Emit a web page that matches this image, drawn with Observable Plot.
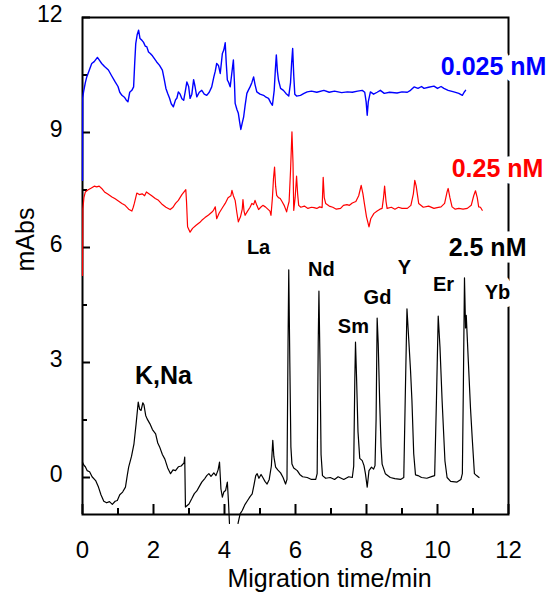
<!DOCTYPE html>
<html><head><meta charset="utf-8">
<script src="https://cdn.jsdelivr.net/npm/d3@7"></script>
<script src="https://cdn.jsdelivr.net/npm/@observablehq/plot@0.6"></script>
<style>html,body{margin:0;padding:0;background:#fff;}</style>
</head><body><div id="chart"></div>
<script>
// ---- data ----
const xTicks = [0, 2, 4, 6, 8, 10, 12];
const xMinorTicks = [1, 3, 5, 7, 9, 11];
const yTicks = [0, 3, 6, 9, 12];
const yMinorTicks = [1.5, 4.5, 7.5, 10.5];
const xTitle = "Migration time/min";
const yTitle = "mAbs";

// 2.5 nM trace (black) [time (min), mAbs]
const trace2_5 = [[0,0.40],[0.04,0.32],[0.08,0.28],[0.13,0.18],[0.2,0.15],[0.27,0.02],[0.37,-0.08],[0.45,-0.25],[0.52,-0.45],[0.6,-0.62],[0.68,-0.66],[0.76,-0.63],[0.84,-0.70],[0.92,-0.62],[0.98,-0.6],[1.05,-0.45],[1.13,-0.38],[1.21,-0.25],[1.26,0.05],[1.30,0.27],[1.38,0.55],[1.45,0.88],[1.51,1.4],[1.57,1.97],[1.61,1.78],[1.65,1.75],[1.70,1.95],[1.73,1.90],[1.78,1.62],[1.82,1.53],[1.9,1.4],[1.97,1.25],[2.06,1.14],[2.12,0.9],[2.18,0.78],[2.25,0.6],[2.32,0.48],[2.40,0.25],[2.48,0.10],[2.55,0.2],[2.62,0.18],[2.70,0.28],[2.78,0.30],[2.86,0.38],[2.88,0.53],[2.90,-0.77],[3.0,-0.69],[3.08,-0.55],[3.15,-0.42],[3.22,-0.35],[3.28,-0.25],[3.36,-0.12],[3.45,-0.02],[3.50,0.05],[3.56,0.10],[3.62,0.03],[3.70,0.12],[3.76,0.05],[3.82,0.2],[3.86,0.40],[3.90,-0.3],[3.94,-0.51],[3.98,-0.38],[4.03,-0.34],[4.08,-0.12],[4.11,-0.6],[4.14,-1.2],[4.26,NaN],[4.38,-1.2],[4.44,-0.95],[4.50,-0.86],[4.58,-0.7],[4.65,-0.6],[4.72,-0.5],[4.78,-0.43],[4.83,-0.2],[4.88,0.05],[4.92,0.10],[4.97,-0.02],[5.03,0.08],[5.08,0.0],[5.14,-0.1],[5.2,-0.17],[5.26,-0.05],[5.32,0.3],[5.36,0.97],[5.39,0.55],[5.44,0.27],[5.5,0.2],[5.58,0.12],[5.65,0.0],[5.72,-0.17],[5.76,-0.05],[5.79,3.5],[5.81,5.42],[5.84,3.0],[5.87,0.8],[5.90,0.35],[5.95,0.25],[6.05,0.18],[6.12,0.08],[6.2,0.02],[6.33,0.0],[6.45,-0.05],[6.57,-0.05],[6.61,0.1],[6.64,3.5],[6.66,4.86],[6.69,3.0],[6.72,0.6],[6.76,0.05],[6.85,-0.02],[6.98,0.0],[7.1,-0.05],[7.2,0.02],[7.36,-0.05],[7.5,0.02],[7.6,0.0],[7.64,0.3],[7.67,2.5],[7.69,3.53],[7.72,2.6],[7.76,1.2],[7.81,0.5],[7.88,0.44],[7.93,0.31],[7.97,0.1],[8.02,-0.25],[8.07,0.18],[8.14,0.27],[8.20,0.22],[8.24,0.31],[8.27,1.5],[8.30,4.16],[8.33,3.5],[8.37,2.0],[8.41,0.8],[8.44,0.35],[8.53,0.1],[8.67,0.0],[8.8,-0.03],[8.96,-0.05],[9.05,0.0],[9.09,2.0],[9.14,4.40],[9.19,3.6],[9.24,2.8],[9.28,2.0],[9.33,0.62],[9.38,0.07],[9.45,0.05],[9.55,0.0],[9.7,-0.02],[9.85,0.03],[9.92,0.05],[9.97,2.0],[10.02,4.21],[10.07,3.4],[10.13,2.0],[10.21,0.43],[10.27,0.0],[10.37,-0.1],[10.55,-0.12],[10.66,-0.05],[10.70,0.1],[10.73,2.5],[10.76,5.21],[10.79,3.9],[10.81,4.23],[10.87,3.0],[10.93,1.8],[10.98,1.0],[11.04,0.1],[11.1,0.05],[11.17,0.0]];

// 0.25 nM trace (red)
const trace0_25 = [[0,5.27],[0.01,7.0],[0.04,7.3],[0.08,7.45],[0.15,7.5],[0.25,7.55],[0.33,7.6],[0.40,7.58],[0.47,7.6],[0.54,7.54],[0.62,7.45],[0.7,7.4],[0.83,7.32],[0.92,7.27],[1.0,7.22],[1.11,7.15],[1.2,7.1],[1.3,7.0],[1.39,6.95],[1.43,7.05],[1.46,7.15],[1.53,7.42],[1.6,7.38],[1.68,7.4],[1.75,7.35],[1.8,7.45],[1.86,7.41],[1.95,7.35],[2.05,7.28],[2.14,7.23],[2.25,7.12],[2.35,7.05],[2.47,6.99],[2.55,7.05],[2.62,7.15],[2.70,7.23],[2.8,7.38],[2.91,7.51],[2.93,7.2],[2.96,6.54],[3.03,6.40],[3.1,6.5],[3.2,6.58],[3.3,6.65],[3.36,6.71],[3.45,6.78],[3.55,6.85],[3.64,6.92],[3.69,6.97],[3.74,7.06],[3.78,6.75],[3.85,6.9],[3.95,7.05],[4.02,7.15],[4.1,7.3],[4.18,7.35],[4.21,7.49],[4.25,7.35],[4.30,7.23],[4.35,6.9],[4.39,6.67],[4.45,6.8],[4.50,7.0],[4.52,7.25],[4.55,6.95],[4.58,6.84],[4.65,6.95],[4.72,7.05],[4.77,7.15],[4.82,7.12],[4.86,7.23],[4.91,7.1],[4.96,6.99],[5.02,7.05],[5.08,7.1],[5.15,7.06],[5.22,7.0],[5.28,6.95],[5.31,6.84],[5.35,7.3],[5.38,7.8],[5.41,8.10],[5.44,7.6],[5.47,7.36],[5.52,7.3],[5.57,7.28],[5.62,7.2],[5.68,7.1],[5.75,6.93],[5.77,7.02],[5.82,7.2],[5.86,8.0],[5.90,9.02],[5.93,8.2],[5.95,6.97],[5.99,7.3],[6.03,7.86],[6.06,7.4],[6.09,7.10],[6.15,7.05],[6.25,7.08],[6.35,7.02],[6.45,7.05],[6.52,7.04],[6.6,7.02],[6.68,7.06],[6.75,7.04],[6.78,7.83],[6.81,7.3],[6.85,7.15],[6.95,7.08],[7.05,7.05],[7.15,7.0],[7.27,7.02],[7.35,7.1],[7.45,7.12],[7.52,7.1],[7.60,7.16],[7.7,7.2],[7.78,7.35],[7.85,7.62],[7.9,7.4],[7.94,7.15],[8.0,6.8],[8.07,6.54],[8.12,6.75],[8.21,6.89],[8.3,6.95],[8.38,7.0],[8.44,7.02],[8.48,7.3],[8.51,7.60],[8.55,7.2],[8.58,7.02],[8.7,7.05],[8.8,7.0],[8.9,7.05],[9.0,7.02],[9.15,7.02],[9.25,7.1],[9.32,7.4],[9.36,7.75],[9.40,7.6],[9.47,7.15],[9.6,7.05],[9.75,7.08],[9.9,7.02],[9.99,7.04],[10.1,7.06],[10.2,7.15],[10.27,7.45],[10.30,7.54],[10.35,7.3],[10.41,7.06],[10.5,7.0],[10.6,7.02],[10.72,7.0],[10.84,7.02],[10.95,7.1],[11.02,7.35],[11.07,7.48],[11.12,7.3],[11.16,7.06],[11.21,7.05],[11.26,6.97]];

// 0.025 nM trace (blue)
const trace0_025 = [[0,7.75],[0.005,9.9],[0.03,10.06],[0.08,10.3],[0.12,10.45],[0.18,10.6],[0.26,10.80],[0.33,10.85],[0.42,10.96],[0.48,10.88],[0.54,10.80],[0.62,10.72],[0.73,10.63],[0.82,10.48],[0.92,10.32],[1.0,10.2],[1.05,10.05],[1.11,9.97],[1.18,9.92],[1.23,9.85],[1.28,9.80],[1.33,10.05],[1.39,10.10],[1.44,10.19],[1.47,10.8],[1.50,11.32],[1.54,11.55],[1.58,11.67],[1.62,11.45],[1.67,11.41],[1.72,11.35],[1.77,11.25],[1.81,11.24],[1.86,11.1],[1.91,11.06],[1.97,11.0],[2.03,10.92],[2.09,10.84],[2.17,10.75],[2.25,10.63],[2.3,10.4],[2.35,10.15],[2.40,10.02],[2.45,9.9],[2.50,9.75],[2.56,9.67],[2.62,9.85],[2.66,9.9],[2.70,10.06],[2.75,10.0],[2.80,9.88],[2.85,9.84],[2.90,10.1],[2.94,10.32],[2.99,10.2],[3.03,9.89],[3.08,10.0],[3.13,10.38],[3.17,10.2],[3.22,9.93],[3.29,10.05],[3.36,10.10],[3.43,10.0],[3.50,9.97],[3.57,10.05],[3.64,10.19],[3.70,10.45],[3.74,10.6],[3.78,10.80],[3.83,10.75],[3.88,10.54],[3.91,10.8],[3.94,11.06],[3.98,11.15],[4.02,11.34],[4.05,10.8],[4.08,10.37],[4.12,10.3],[4.16,10.19],[4.2,10.5],[4.25,10.89],[4.28,10.3],[4.30,9.76],[4.35,9.6],[4.39,9.50],[4.43,9.25],[4.46,9.08],[4.50,9.25],[4.54,9.41],[4.58,9.7],[4.63,10.02],[4.67,10.1],[4.72,10.19],[4.77,10.3],[4.82,10.45],[4.86,10.25],[4.91,10.06],[5.0,10.0],[5.10,9.97],[5.17,9.92],[5.24,9.89],[5.30,9.78],[5.35,9.71],[5.40,10.1],[5.43,10.6],[5.46,11.02],[5.49,10.6],[5.52,10.37],[5.58,10.15],[5.66,10.10],[5.73,10.02],[5.81,9.95],[5.86,10.3],[5.89,10.8],[5.92,11.19],[5.95,10.5],[5.98,10.0],[6.03,9.95],[6.14,9.97],[6.24,10.02],[6.33,10.06],[6.45,10.08],[6.6,10.05],[6.8,10.10],[6.95,10.05],[7.1,10.08],[7.3,10.04],[7.46,10.06],[7.6,10.05],[7.75,10.08],[7.88,10.10],[7.95,10.05],[7.99,9.8],[8.02,9.45],[8.05,9.8],[8.11,10.06],[8.2,10.0],[8.3,10.05],[8.39,10.10],[8.5,10.02],[8.65,10.05],[8.86,10.03],[9.0,10.06],[9.15,10.05],[9.24,10.10],[9.34,10.19],[9.45,10.15],[9.55,10.2],[9.62,10.15],[9.75,10.18],[9.90,10.21],[10.0,10.15],[10.1,10.2],[10.18,10.15],[10.3,10.1],[10.46,10.06],[10.6,10.02],[10.70,9.97],[10.75,10.05],[10.79,10.10]];

// annotations (data coordinates)
const seriesNames = ["2.5 nM", "0.25 nM", "0.025 nM"];
const seriesColors = ["#000000", "#ff0000", "#0000ff"];
const seriesLabelX = [11.41, 11.69, 11.58];
const seriesLabelY = [6.0, 8.04, 10.70];
const peakNames = ["La", "Nd", "Sm", "Gd", "Y", "Er", "Yb"];
const peakLabelX = [4.96, 6.73, 7.63, 8.31, 9.07, 10.17, 11.69];
const peakLabelY = [6.0, 5.43, 3.94, 4.70, 5.47, 5.04, 4.83];
const ionName = ["K,Na"];
const ionLabelX = [2.28];
const ionLabelY = [2.64];

// ---- layout ----
const W = 555, H = 593;
const mL = 82, mR = 47, mT = 17, mB = 79;
const plotW = W - mL - mR, plotH = H - mT - mB;
const font = "'Liberation Sans', Arial, Helvetica, sans-serif";

const seriesLabels = seriesNames.map((n, i) => ({n, x: seriesLabelX[i], y: seriesLabelY[i], c: seriesColors[i]}));
const peakLabels = peakNames.map((n, i) => ({n, x: peakLabelX[i], y: peakLabelY[i]}));
const ionLabels = ionName.map((n, i) => ({n, x: ionLabelX[i], y: ionLabelY[i]}));

const chart = Plot.plot({
  width: W, height: H,
  marginLeft: mL, marginRight: mR, marginTop: mT, marginBottom: mB,
  x: {domain: [0, 12], axis: null},
  y: {domain: [-0.965, 12], axis: null},
  style: {fontFamily: font, background: "white", overflow: "visible", color: "black"},
  marks: [
    Plot.frame({stroke: "black", strokeWidth: 2}),
    Plot.tickX(xTicks, {x: d => d, stroke: "black", strokeWidth: 2, insetTop: plotH - 10}),
    Plot.tickX(xMinorTicks, {x: d => d, stroke: "black", strokeWidth: 2, insetTop: plotH - 6}),
    Plot.tickY(yTicks, {y: d => d, stroke: "black", strokeWidth: 2, insetRight: plotW - 8}),
    Plot.tickY(yMinorTicks, {y: d => d, stroke: "black", strokeWidth: 2, insetRight: plotW - 5}),
    Plot.axisX({ticks: xTicks, tickSize: 0, tickPadding: 26, fontSize: 24, label: null, tickFormat: d => String(d)}),
    Plot.axisY({ticks: yTicks, tickSize: 0, tickPadding: 20, fontSize: 23, label: null, dy: -3, tickFormat: d => String(d)}),
    Plot.text([xTitle], {frameAnchor: "bottom", text: d => d, dx: 34, dy: 72, lineAnchor: "bottom", fontSize: 25}),
    Plot.text([yTitle], {frameAnchor: "left", text: d => d, dx: -57, dy: 5.5, rotate: -90, fontSize: 25}),
    Plot.line(trace2_5, {x: d => d[0], y: d => d[1], stroke: "black", strokeWidth: 1.2}),
    Plot.line(trace0_25, {x: d => d[0], y: d => d[1], stroke: "#ff0000", strokeWidth: 1.2}),
    Plot.line(trace0_025, {x: d => d[0], y: d => d[1], stroke: "#0000ff", strokeWidth: 1.4}),
    Plot.text(seriesLabels, {x: "x", y: "y", text: "n", fill: "c", fontWeight: "bold", fontSize: 25, stroke: "white", strokeWidth: 13}),
    Plot.text(peakLabels, {x: "x", y: "y", text: "n", fill: "black", fontWeight: "bold", fontSize: 20, stroke: d => d.n === "Yb" ? "white" : "none", strokeWidth: 16}),
    Plot.text(ionLabels, {x: "x", y: "y", text: "n", fill: "black", fontWeight: "bold", fontSize: 25})
  ]
});
document.getElementById("chart").appendChild(chart);
</script>
</body></html>
